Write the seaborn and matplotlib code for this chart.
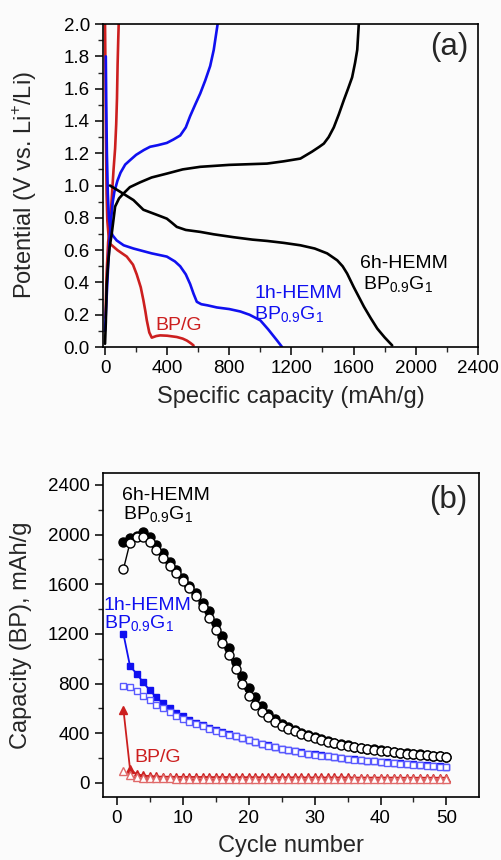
import matplotlib
matplotlib.use("Agg")
import matplotlib.pyplot as plt
from matplotlib.ticker import MultipleLocator
import seaborn as sns
import numpy as np

# ---------------- Panel (a) data: voltage profiles ----------------
bpg_dis_cap = [0, 3, 6, 10, 15, 22, 32, 80, 140, 180, 204, 230, 247, 260, 269, 285, 301, 330, 355, 400, 462, 500, 527, 550, 570]
bpg_dis_v = [2.0, 1.7, 1.3, 0.95, 0.78, 0.7, 0.64, 0.6, 0.56, 0.51, 0.45, 0.37, 0.29, 0.22, 0.165, 0.09, 0.058, 0.068, 0.072, 0.07, 0.062, 0.052, 0.04, 0.025, 0.01]
bpg_chg_cap = [3, 10, 20, 32, 45, 55, 65, 72, 77, 81, 85, 88]
bpg_chg_v = [0.18, 0.45, 0.65, 0.75, 0.95, 1.1, 1.23, 1.38, 1.54, 1.75, 1.9, 2.0]

h1_dis_cap = [5, 8, 12, 18, 25, 35, 50, 75, 120, 183, 300, 398, 450, 484, 520, 548, 570, 591, 620, 660, 720, 800, 871, 930, 1000, 1050, 1108, 1140]
h1_dis_v = [1.8, 1.5, 1.2, 0.95, 0.8, 0.72, 0.69, 0.66, 0.63, 0.61, 0.58, 0.56, 0.53, 0.5, 0.45, 0.39, 0.33, 0.28, 0.265, 0.258, 0.245, 0.235, 0.22, 0.2, 0.165, 0.11, 0.04, 0.0]
h1_chg_cap = [0, 10, 20, 30, 40, 50, 60, 80, 100, 130, 161, 200, 250, 290, 340, 398, 440, 484, 520, 548, 580, 613, 645, 677, 700, 725]
h1_chg_v = [0.1, 0.3, 0.5, 0.68, 0.8, 0.9, 0.96, 1.03, 1.08, 1.13, 1.157, 1.19, 1.22, 1.24, 1.25, 1.264, 1.285, 1.31, 1.36, 1.43, 1.5, 1.57, 1.65, 1.74, 1.84, 2.0]

h6_dis_cap = [32, 100, 183, 247, 330, 398, 430, 462, 520, 613, 700, 828, 950, 1043, 1150, 1258, 1350, 1430, 1495, 1530, 1559, 1602, 1640, 1667, 1710, 1753, 1800, 1849]
h6_dis_v = [1.0, 0.96, 0.91, 0.85, 0.82, 0.795, 0.77, 0.744, 0.725, 0.713, 0.698, 0.68, 0.665, 0.657, 0.645, 0.63, 0.61, 0.58, 0.537, 0.5, 0.455, 0.37, 0.3, 0.25, 0.18, 0.114, 0.06, 0.01]
h6_chg_cap = [0, 5, 11, 20, 30, 43, 65, 90, 118, 160, 226, 300, 398, 500, 613, 800, 1043, 1150, 1258, 1333, 1380, 1409, 1440, 1473, 1505, 1538, 1565, 1591, 1610, 1624, 1634]
h6_chg_v = [0.02, 0.15, 0.39, 0.52, 0.62, 0.70, 0.87, 0.92, 0.95, 0.99, 1.02, 1.05, 1.074, 1.1, 1.116, 1.128, 1.136, 1.15, 1.167, 1.21, 1.24, 1.26, 1.3, 1.36, 1.44, 1.53, 1.6, 1.67, 1.76, 1.84, 2.0]

# ---------------- Panel (b) data: cycling ----------------
cycles = list(range(1, 51))
h6_filled = [1944, 1971, 1990, 2017, 1984, 1917, 1850, 1783, 1716, 1649,
             1588, 1529, 1453, 1381, 1287, 1180, 1086, 973, 858, 764,
             690, 620, 558, 512, 478, 450, 425, 404, 384, 366,
             350, 337, 325, 313, 302, 293, 285, 277, 270, 263,
             257, 251, 245, 240, 235, 230, 225, 220, 216, 212]
h6_open = [1722, 1936, 1979, 1984, 1944, 1877, 1810, 1750, 1690, 1630,
           1570, 1505, 1420, 1330, 1230, 1130, 1030, 920, 800, 700,
           628, 575, 530, 490, 460, 437, 415, 398, 378, 360,
           345, 332, 320, 308, 298, 289, 281, 273, 266, 260,
           254, 248, 242, 237, 232, 227, 222, 217, 213, 208]
h1_filled = [1200, 940, 880, 810, 745, 690, 640, 600, 565, 535,
             508, 485, 463, 443, 425, 408, 392, 377, 362, 348,
             332, 316, 302, 289, 277, 266, 256, 246, 237, 229,
             222, 215, 208, 202, 196, 190, 185, 180, 175, 170,
             166, 162, 158, 154, 150, 146, 142, 138, 134, 130]
h1_open = [780, 775, 740, 700, 665, 630, 600, 570, 540, 515,
           492, 472, 455, 438, 421, 405, 389, 374, 359, 345,
           330, 314, 300, 287, 275, 264, 254, 244, 235, 227,
           220, 213, 206, 200, 194, 188, 183, 178, 173, 168,
           164, 160, 156, 152, 148, 144, 140, 136, 132, 128]
bpg_filled = [590, 110, 70, 60, 55, 52, 50, 50, 49, 49,
              48, 48, 48, 47, 47, 47, 47, 46, 46, 46,
              46, 46, 45, 45, 45, 45, 45, 45, 44, 44,
              44, 44, 44, 44, 44, 43, 43, 43, 43, 43,
              43, 43, 42, 42, 42, 42, 42, 42, 42, 42]
bpg_open = [100, 60, 45, 40, 38, 37, 36, 36, 35, 35,
            35, 35, 35, 34, 34, 34, 34, 34, 34, 34,
            34, 34, 34, 34, 34, 33, 33, 33, 33, 33,
            33, 33, 33, 33, 33, 33, 33, 33, 33, 33,
            33, 33, 33, 33, 33, 33, 33, 33, 33, 33]

BLACK = "#000000"
BLUE = "#1010f0"
LBLUE = "#5a5aff"
RED = "#cc1f1f"
LRED = "#e06a6a"
BG = "#fbfbfb"

sns.set_theme(style="ticks")
plt.rcParams["font.family"] = ["Liberation Sans", "DejaVu Sans"]
plt.rcParams["mathtext.fontset"] = "custom"
plt.rcParams["mathtext.rm"] = "Liberation Sans"
plt.rcParams["axes.linewidth"] = 1.2

fig = plt.figure(figsize=(5.01, 8.60), dpi=100, facecolor=BG)
axA = fig.add_axes([0.2056, 0.5965, 0.748, 0.3755])
axB = fig.add_axes([0.2056, 0.0733, 0.750, 0.3767])

TICK_FS = 13.5
LAB_FS = 17
ANN_FS = 14
SUB = r"BP$_{\mathregular{0.9}}$G$_{\mathregular{1}}$"

def style_axis(ax):
    ax.set_facecolor(BG)
    for s in ax.spines.values():
        s.set_color("black")
        s.set_linewidth(1.2)
    ax.tick_params(which="major", direction="out", length=6, width=1.1,
                   labelsize=TICK_FS, colors="black", top=False, right=False)
    ax.tick_params(which="minor", direction="out", length=3.5, width=1.0,
                   top=False, right=False)

# ---------------- Panel (a) ----------------
lw = 1.9
for cap, v, col in [(bpg_dis_cap, bpg_dis_v, RED), (bpg_chg_cap, bpg_chg_v, RED),
                    (h1_dis_cap, h1_dis_v, BLUE), (h1_chg_cap, h1_chg_v, BLUE),
                    (h6_dis_cap, h6_dis_v, BLACK), (h6_chg_cap, h6_chg_v, BLACK)]:
    sns.lineplot(x=cap, y=v, ax=axA, color=col, lw=lw, sort=False, estimator=None)

axA.set_xlim(-13, 2400)
axA.set_ylim(0, 2.0)
axA.xaxis.set_major_locator(MultipleLocator(400))
axA.xaxis.set_minor_locator(MultipleLocator(200))
axA.yaxis.set_major_locator(MultipleLocator(0.2))
axA.yaxis.set_minor_locator(MultipleLocator(0.1))
axA.yaxis.set_major_formatter(matplotlib.ticker.FormatStrFormatter("%.1f"))
style_axis(axA)
axA.set_xlabel("Specific capacity (mAh/g)", fontsize=LAB_FS)
axA.set_ylabel(r"Potential (V vs. Li$^{\mathregular{+}}$/Li)", fontsize=LAB_FS)
axA.xaxis.set_label_coords(0.5, -0.12)
axA.yaxis.set_label_coords(-0.17, 0.5)

axA.text(2219, 1.857, "(a)", fontsize=22.5, ha="center", va="center")
axA.text(1645, 0.489, "6h-HEMM", fontsize=ANN_FS, color=BLACK, va="baseline")
axA.text(1658, 0.353, SUB, fontsize=ANN_FS, color=BLACK, va="baseline")
axA.text(961, 0.303, "1h-HEMM", fontsize=ANN_FS, color=BLUE, va="baseline")
axA.text(961, 0.167, SUB, fontsize=ANN_FS, color=BLUE, va="baseline")
axA.text(323, 0.105, "BP/G", fontsize=ANN_FS, color=RED, va="baseline")

# ---------------- Panel (b) ----------------
ms_c = 6.5
ms_s = 5.0
# filled series first, open series drawn on top (as in the reference)
sns.lineplot(x=cycles, y=h6_filled, ax=axB, color=BLACK, lw=1.0, marker="o", markersize=ms_c,
             markerfacecolor=BLACK, markeredgecolor=BLACK, markeredgewidth=1.0)
sns.lineplot(x=cycles, y=h6_open, ax=axB, color=BLACK, lw=1.0, marker="o", markersize=ms_c,
             markerfacecolor="white", markeredgecolor=BLACK, markeredgewidth=1.0)
sns.lineplot(x=cycles, y=h1_filled, ax=axB, color=BLUE, lw=1.3, marker="s", markersize=ms_s,
             markerfacecolor=BLUE, markeredgecolor=BLUE, markeredgewidth=1.0)
sns.lineplot(x=cycles, y=h1_open, ax=axB, color=LBLUE, lw=1.0, marker="s", markersize=ms_s,
             markerfacecolor="white", markeredgecolor=LBLUE, markeredgewidth=1.0)
sns.lineplot(x=cycles, y=bpg_filled, ax=axB, color=RED, lw=1.3, marker="^", markersize=ms_s + 0.5,
             markerfacecolor=RED, markeredgecolor=RED, markeredgewidth=1.0)
sns.lineplot(x=cycles, y=bpg_open, ax=axB, color=LRED, lw=1.0, marker="^", markersize=ms_s + 0.5,
             markerfacecolor="white", markeredgecolor=LRED, markeredgewidth=1.0)

axB.set_xlim(-2.1, 54.9)
axB.set_ylim(-113, 2496)
axB.xaxis.set_major_locator(MultipleLocator(10))
axB.xaxis.set_minor_locator(MultipleLocator(5))
axB.yaxis.set_major_locator(MultipleLocator(400))
axB.yaxis.set_minor_locator(MultipleLocator(200))
style_axis(axB)
axB.set_xlabel("Cycle number", fontsize=LAB_FS)
axB.set_ylabel("Capacity (BP), mAh/g", fontsize=LAB_FS)
axB.xaxis.set_label_coords(0.5, -0.118)
axB.yaxis.set_label_coords(-0.19, 0.5)

axB.text(50.3, 2279, "(b)", fontsize=22.5, ha="center", va="center")
axB.text(0.76, 2279, "6h-HEMM", fontsize=ANN_FS, color=BLACK, va="baseline")
axB.text(0.9, 2118, SUB, fontsize=ANN_FS, color=BLACK, va="baseline")
axB.text(-2.0, 1393, "1h-HEMM", fontsize=ANN_FS, color=BLUE, va="baseline")
axB.text(-1.9, 1240, SUB, fontsize=ANN_FS, color=BLUE, va="baseline")
axB.text(2.7, 169, "BP/G", fontsize=ANN_FS, color=RED, va="baseline")

fig.savefig("out.png", dpi=100, facecolor=BG)
